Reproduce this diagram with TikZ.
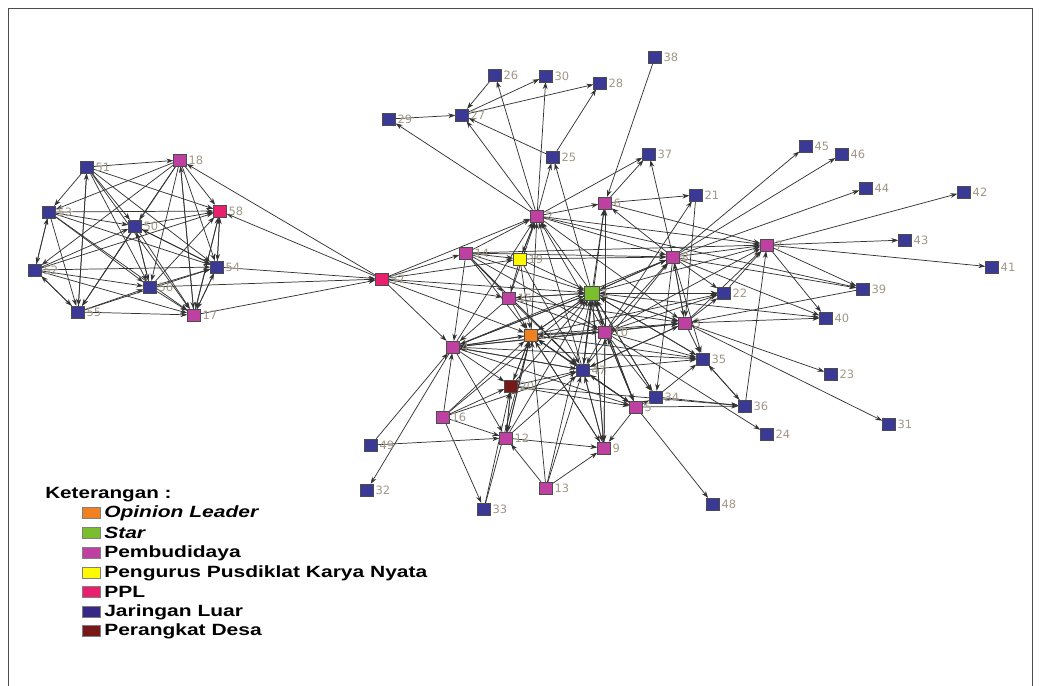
\documentclass[tikz,border=0pt]{standalone}
\usepackage{fontspec}
\usepackage{graphicx}
\setmainfont{Liberation Sans}
\newfontfamily\dv{DejaVu Sans}
\usetikzlibrary{arrows.meta,backgrounds}
\definecolor{blu}{RGB}{58,58,150}
\definecolor{pem}{RGB}{190,64,160}
\definecolor{ppl}{RGB}{232,32,110}
\definecolor{star}{RGB}{122,190,45}
\definecolor{opl}{RGB}{240,128,32}
\definecolor{yel}{RGB}{255,250,0}
\definecolor{des}{RGB}{120,25,25}
\definecolor{labc}{RGB}{160,150,135}
\definecolor{jar}{RGB}{55,40,135}
\newcommand\nd[4]{\node[#1,label={[lab]east:#2}] (n#2) at (#3,#4) {};}
\begin{document}
\begin{tikzpicture}[x=0.75pt,y=-0.75pt,
  sq/.style={rectangle,draw=black!70,line width=0.45pt,minimum width=9.6pt,minimum height=8.8pt,inner sep=0pt},
  nblu/.style={sq,fill=blu},
  npem/.style={sq,fill=pem},
  nppl/.style={sq,fill=ppl},
  nstar/.style={sq,fill=star,minimum width=11pt,minimum height=10.2pt},
  nopl/.style={sq,fill=opl},
  nyel/.style={sq,fill=yel},
  ndes/.style={sq,fill=des},
  lab/.style={font=\dv\fontsize{8.6}{9}\selectfont,text=labc,inner sep=0.5pt},
  label distance=0.8pt,
  ed/.style={draw=black!80,line width=0.55pt,-{Stealth[length=5.2pt,width=3.6pt]}},
  lsq/.style={rectangle,draw=black!50,line width=0.4pt,minimum width=13.5pt,minimum height=8.25pt,inner sep=0pt},
  lg/.style={anchor=west,inner sep=0pt,font=\bfseries\fontsize{12.2}{14}\selectfont}]
\useasboundingbox (0,0) rectangle (1040,686);
\draw[black!70,line width=0.75pt] (8,690) -- (8,8) -- (1032,8) -- (1032,690);
% left cluster
\nd{nblu}{51}{87}{167}
\nd{npem}{18}{180}{160}
\nd{nblu}{53}{49}{212}
\nd{nblu}{50}{135}{226}
\nd{nppl}{58}{220}{211}
\nd{nblu}{52}{35}{270}
\nd{nblu}{54}{217}{267}
\nd{nblu}{56}{150}{287}
\nd{nblu}{55}{78}{312}
\nd{npem}{17}{194}{315}
\nd{nppl}{57}{382}{279}
% top
\nd{nblu}{26}{495}{75}
\nd{nblu}{30}{546}{76}
\nd{nblu}{28}{600}{83}
\nd{nblu}{38}{655}{57}
\nd{nblu}{29}{389}{119}
\nd{nblu}{27}{462}{115}
\nd{nblu}{25}{553}{157}
\nd{nblu}{37}{649}{154}
\nd{nblu}{45}{806}{146}
\nd{nblu}{46}{842}{154}
\nd{nblu}{44}{866}{188}
\nd{nblu}{42}{964}{192}
% middle
\nd{npem}{2}{537}{216}
\nd{npem}{6}{605}{203}
\nd{nblu}{21}{696}{195}
\nd{npem}{14}{466}{253}
\nd{nyel}{19}{520}{259}
\nd{npem}{8}{673}{257}
\nd{npem}{7}{767}{245}
\nd{nblu}{43}{905}{240}
\nd{nblu}{41}{992}{267}
\nd{nstar}{1}{592}{293}
\nd{nblu}{22}{724}{293}
\nd{nblu}{39}{863}{289}
\nd{npem}{15}{509}{298}
\nd{nblu}{40}{826}{318}
\nd{nopl}{11}{531}{335}
\nd{npem}{10}{605}{332}
\nd{npem}{3}{685}{323}
\nd{npem}{4}{453}{347}
\nd{nblu}{35}{703}{359}
\nd{nblu}{47}{583}{370}
\nd{nblu}{23}{831}{374}
\nd{ndes}{20}{511}{386}
\nd{nblu}{34}{656}{397}
\nd{npem}{5}{636}{407}
\nd{nblu}{36}{745}{406}
\nd{npem}{16}{443}{417}
\nd{nblu}{24}{767}{434}
\nd{nblu}{31}{889}{424}
\nd{nblu}{49}{371}{445}
\nd{npem}{12}{506}{438}
\nd{npem}{9}{604}{448}
\nd{nblu}{32}{367}{490}
\nd{npem}{13}{546}{488}
\nd{nblu}{33}{484}{509}
\nd{nblu}{48}{713}{504}
\begin{pgfonlayer}{background}
\foreach \a/\b in {51/53,51/55,55/51,51/50,51/56,51/58,51/54,51/18,51/17,
  53/58,53/50,53/52,52/53,53/55,53/56,53/54,53/17,
  18/53,18/52,18/50,18/55,18/58,18/54,17/18,18/17,18/56,
  52/58,52/50,52/54,52/56,52/55,52/17,55/52,
  50/55,50/56,50/54,50/58,50/17,54/50,56/50,
  56/54,56/58,56/17,55/56,55/54,55/17,
  17/57,17/54,17/58,54/17,58/17,
  54/57,54/58,58/54,56/57,57/58,57/18,
  57/2,57/14,57/19,57/1,57/15,57/11,57/4}
  {\draw[ed] (n\a) -- (n\b);}
\foreach \a/\b in {26/27,27/30,27/28,29/27,2/29,2/27,25/27,2/26,2/30,25/28,2/25,1/25,
  38/6,2/37,6/37,8/37,6/21,10/21,21/3,8/45,8/46,8/44,7/42,7/43,7/41,
  2/6,2/7,2/8,2/39,2/3,14/2,19/2,15/2,4/2,11/2,1/2,47/2,10/2,2/19,
  6/7,8/6,1/6,10/6,47/6,
  8/22,8/3,8/40,8/35,8/34,8/7,8/39,19/8,1/8,10/8,4/8,47/8,14/8,3/8,
  22/7,3/7,36/7,1/7,10/7,7/39,7/40,14/7,
  39/3,3/40,3/23,3/31,3/35,3/22,1/3,10/3,11/3,4/3,47/3,15/3,
  34/35,36/35,35/36,1/35,10/35,47/35,11/35,4/35,
  5/36,34/36,20/36,10/24,
  5/48,5/9,5/34,10/5,1/5,11/5,47/5,20/5,4/5,
  12/9,13/9,10/9,1/9,47/9,11/9,
  13/12,49/12,16/12,20/12,11/12,12/20,4/12,12/1,12/47,
  16/33,33/20,33/11,13/47,13/1,13/11,
  16/4,16/11,16/20,16/47,16/1,49/4,4/32,
  4/11,4/1,4/47,4/20,14/4,15/4,11/4,1/4,10/4,47/4,
  14/19,14/15,14/1,14/47,14/10,14/11,
  19/15,19/11,19/1,19/47,
  15/1,15/11,15/47,1/15,15/10,
  11/10,11/1,11/47,11/20,1/11,10/11,47/11,20/11,12/11,9/11,5/11,
  10/1,47/1,20/1,9/1,5/1,3/1,8/1,22/1,35/1,34/1,1/22,1/40,1/34,1/47,
  10/47,10/34,10/22,1/10,9/10,5/10,
  20/47,5/47,9/47,3/47,11/22}
  {\draw[ed] (n\a) -- (n\b);}
\end{pgfonlayer}
% legend
\node[lg] (kt) at (45,495) {\scalebox{1.27}[1]{Keterangan :}};
\node[lsq,fill=opl] (l1) at (91.5,513) {};
\node[lsq,fill=star] (l2) at (91.5,533) {};
\node[lsq,fill=pem] (l3) at (91.5,553) {};
\node[lsq,fill=yel] (l4) at (91.5,573) {};
\node[lsq,fill=ppl] (l5) at (91.5,592) {};
\node[lsq,fill=jar] (l6) at (91.5,612) {};
\node[lsq,fill=des] (l7) at (91.5,631) {};
\node[lg] (t1) at (104,513) {\scalebox{1.29}[1]{\itshape Opinion Leader}};
\node[lg] (t2) at (104,533) {\scalebox{1.29}[1]{\itshape Star}};
\node[lg] (t3) at (104,553) {\scalebox{1.29}[1]{Pembudidaya}};
\node[lg] (t4) at (104,573) {\scalebox{1.29}[1]{Pengurus Pusdiklat Karya Nyata}};
\node[lg] (t5) at (104,592) {\scalebox{1.29}[1]{PPL}};
\node[lg] (t6) at (104,612) {\scalebox{1.29}[1]{Jaringan Luar}};
\node[lg] (t7) at (104,631) {\scalebox{1.29}[1]{Perangkat Desa}};
\end{tikzpicture}
\end{document}
